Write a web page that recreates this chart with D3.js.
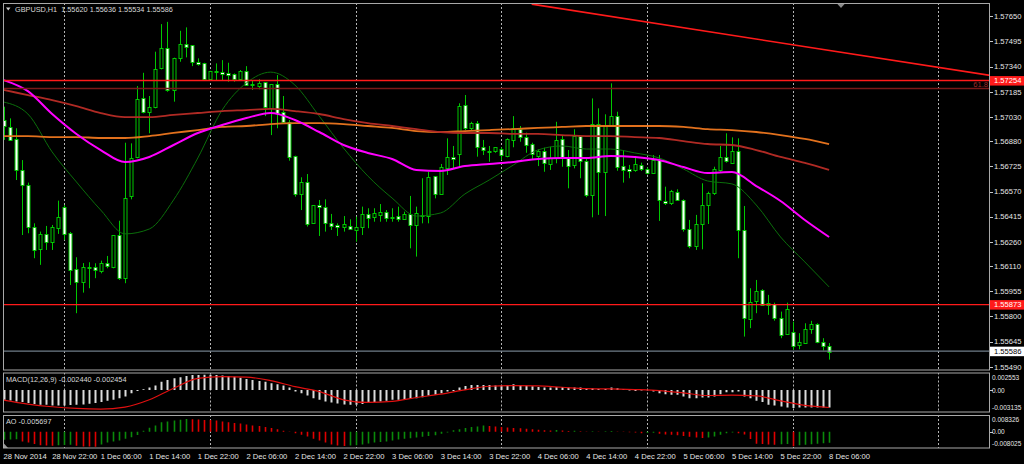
<!DOCTYPE html>
<html><head><meta charset="utf-8">
<script src="https://cdn.jsdelivr.net/npm/d3@7"></script>
<style>body{margin:0;background:#000;overflow:hidden}svg{display:block}</style>
</head><body>
<svg id="chart" width="1024" height="464"></svg>
<script>
// ---------------- DATA ----------------
const symbolTitle = "GBPUSD,H1";
const lastOHLC = ["1.55620","1.55636","1.55534","1.55586"];
const open = [1.57011,1.56970,1.56892,1.56703,1.56610,1.56354,1.56214,1.56309,1.56257,1.56350,
1.56477,1.56316,1.56091,1.56009,1.56103,1.56103,1.56082,1.56132,1.56107,1.56302,
1.56036,1.56543,1.56781,1.57144,1.57056,1.57089,1.57329,1.57452,1.57196,1.57391,
1.57479,1.57473,1.57370,1.57364,1.57267,1.57313,1.57308,1.57302,1.57292,1.57262,
1.57314,1.57231,1.57222,1.57243,1.57087,1.57233,1.57058,1.57000,1.56791,1.56559,
1.56631,1.56374,1.56487,1.56473,1.56378,1.56364,1.56354,1.56358,1.56329,1.56350,
1.56432,1.56409,1.56427,1.56444,1.56415,1.56419,1.56403,1.56432,1.56362,1.56419,
1.56419,1.56666,1.56553,1.56719,1.56785,1.56801,1.57103,1.56966,1.56994,1.56843,
1.56822,1.56816,1.56834,1.56789,1.56888,1.56954,1.56908,1.56861,1.56791,1.56820,
1.56740,1.56775,1.56892,1.56779,1.56732,1.56912,1.56760,1.56549,1.56984,1.56692,
1.56976,1.57035,1.56727,1.56709,1.56703,1.56735,1.56707,1.56682,1.56764,1.56514,
1.56501,1.56565,1.56518,1.56338,1.56235,1.56368,1.56483,1.56559,1.56703,1.56781,
1.56748,1.56822,1.56333,1.55789,1.55898,1.55964,1.55882,1.55877,1.55793,1.55693,
1.55707,1.55625,1.55635,1.55722,1.55754,1.55641,1.55620];
const high = [1.57093,1.57021,1.56960,1.56764,1.56625,1.56374,1.56323,1.56358,1.56364,1.56514,
1.56487,1.56321,1.56165,1.56129,1.56134,1.56128,1.56144,1.56173,1.56302,1.56390,
1.56871,1.56867,1.57220,1.57302,1.57159,1.57432,1.57602,1.57616,1.57395,1.57561,
1.57582,1.57473,1.57391,1.57364,1.57314,1.57360,1.57380,1.57364,1.57298,1.57319,
1.57343,1.57257,1.57262,1.57243,1.57233,1.57288,1.57159,1.57011,1.56791,1.56658,
1.56678,1.56487,1.56518,1.56522,1.56432,1.56374,1.56419,1.56399,1.56415,1.56477,
1.56467,1.56467,1.56493,1.56456,1.56467,1.56477,1.56446,1.56543,1.56477,1.56652,
1.56692,1.56666,1.56740,1.56898,1.56851,1.57114,1.57165,1.57000,1.57005,1.56888,
1.56851,1.56843,1.56843,1.56898,1.57035,1.56974,1.56933,1.56871,1.56830,1.56840,
1.56846,1.57000,1.56918,1.56826,1.56954,1.56918,1.56775,1.57144,1.57083,1.57046,
1.57237,1.57062,1.56826,1.56734,1.56789,1.56748,1.56719,1.56795,1.56795,1.56600,
1.56580,1.56584,1.56522,1.56395,1.56426,1.56621,1.56569,1.56723,1.56851,1.56929,
1.56904,1.56898,1.56481,1.55974,1.56025,1.55968,1.55933,1.55885,1.55830,1.55885,
1.55768,1.55697,1.55758,1.55773,1.55758,1.55666,1.55636];
const low = [1.56888,1.56888,1.56641,1.56302,1.56313,1.56159,1.56118,1.56210,1.56210,1.56309,
1.56272,1.55994,1.55820,1.55947,1.55974,1.56036,1.56066,1.56097,1.56097,1.56025,
1.56005,1.56522,1.56775,1.57052,1.56929,1.57083,1.57323,1.57185,1.57124,1.57370,
1.57397,1.57343,1.57346,1.57253,1.57257,1.57257,1.57257,1.57247,1.57247,1.57253,
1.57226,1.57196,1.57200,1.57035,1.56918,1.56960,1.56994,1.56760,1.56538,1.56456,
1.56354,1.56374,1.56296,1.56323,1.56333,1.56296,1.56323,1.56333,1.56261,1.56302,
1.56344,1.56384,1.56384,1.56384,1.56384,1.56384,1.56395,1.56220,1.56169,1.56374,
1.56374,1.56528,1.56549,1.56672,1.56713,1.56719,1.56949,1.56949,1.56785,1.56795,
1.56754,1.56809,1.56764,1.56781,1.56843,1.56877,1.56809,1.56764,1.56727,1.56692,
1.56703,1.56744,1.56723,1.56590,1.56713,1.56652,1.56535,1.56411,1.56426,1.56419,
1.56970,1.56698,1.56625,1.56652,1.56692,1.56697,1.56676,1.56678,1.56389,1.56487,
1.56487,1.56512,1.56323,1.56220,1.56210,1.56214,1.56370,1.56549,1.56692,1.56748,
1.56744,1.56159,1.55676,1.55728,1.55820,1.55865,1.55810,1.55774,1.55666,1.55686,
1.55594,1.55598,1.55631,1.55693,1.55635,1.55590,1.55534];
const close = [1.56976,1.56892,1.56703,1.56610,1.56354,1.56210,1.56309,1.56261,1.56350,1.56415,
1.56309,1.56091,1.56009,1.56103,1.56105,1.56087,1.56132,1.56111,1.56302,1.56036,
1.56528,1.56775,1.57138,1.57056,1.57089,1.57323,1.57452,1.57196,1.57395,1.57479,
1.57462,1.57370,1.57360,1.57267,1.57314,1.57313,1.57298,1.57290,1.57262,1.57314,
1.57226,1.57222,1.57241,1.57087,1.57233,1.57056,1.56994,1.56785,1.56559,1.56631,
1.56374,1.56487,1.56473,1.56374,1.56360,1.56354,1.56370,1.56338,1.56350,1.56432,
1.56409,1.56436,1.56444,1.56409,1.56415,1.56403,1.56432,1.56362,1.56436,1.56426,
1.56662,1.56553,1.56719,1.56785,1.56771,1.57099,1.56963,1.56994,1.56843,1.56822,
1.56822,1.56843,1.56795,1.56892,1.56960,1.56902,1.56857,1.56800,1.56820,1.56744,
1.56775,1.56888,1.56779,1.56732,1.56912,1.56760,1.56549,1.56984,1.56689,1.56980,
1.57035,1.56719,1.56703,1.56697,1.56738,1.56711,1.56682,1.56764,1.56518,1.56501,
1.56573,1.56518,1.56338,1.56235,1.56368,1.56487,1.56559,1.56707,1.56781,1.56754,
1.56820,1.56338,1.55789,1.55892,1.55959,1.55871,1.55867,1.55789,1.55686,1.55845,
1.55620,1.55641,1.55722,1.55752,1.55640,1.55614,1.55586];

// moving averages, read every 4th bar
const maIdx = [0,4,8,12,16,20,24,28,32,36,40,44,48,52,56,60,64,68,72,76,80,84,88,92,96,100,104,108,112,116,120,124,128,132,136];
const maMagenta = [1.57257,1.57189,1.57048,1.56925,1.56826,1.56752,1.56783,1.56857,1.56931,1.56980,1.57023,1.57054,1.57011,1.56937,1.56857,1.56808,1.56771,1.56703,1.56697,1.56727,1.56740,1.56752,1.56771,1.56777,1.56777,1.56789,1.56783,1.56764,1.56721,1.56684,1.56690,1.56604,1.56512,1.56395,1.56290];
const maBrown = [1.57196,1.57165,1.57134,1.57097,1.57054,1.57029,1.57029,1.57042,1.57054,1.57066,1.57072,1.57079,1.57066,1.57048,1.57017,1.56992,1.56974,1.56955,1.56937,1.56931,1.56931,1.56925,1.56925,1.56918,1.56912,1.56912,1.56906,1.56900,1.56881,1.56863,1.56857,1.56826,1.56783,1.56746,1.56703];
const maOrange = [1.56912,1.56912,1.56906,1.56906,1.56900,1.56900,1.56912,1.56931,1.56949,1.56968,1.56974,1.56986,1.56992,1.56992,1.56986,1.56974,1.56962,1.56943,1.56937,1.56943,1.56949,1.56955,1.56962,1.56968,1.56974,1.56974,1.56974,1.56974,1.56968,1.56955,1.56949,1.56937,1.56918,1.56894,1.56863];
const maGreen = [1.57122,1.57048,1.56814,1.56629,1.56456,1.56309,1.56339,1.56518,1.56777,1.57072,1.57239,1.57306,1.57226,1.57035,1.56838,1.56666,1.56530,1.56419,1.56438,1.56555,1.56641,1.56734,1.56826,1.56851,1.56832,1.56832,1.56808,1.56777,1.56709,1.56635,1.56617,1.56487,1.56290,1.56136,1.55982];

// MACD (12,26,9)
const macdMain = [-0.00138,-0.00147,-0.00161,-0.00170,-0.00184,-0.00198,-0.00207,-0.00207,-0.00216,-0.00216,
-0.00216,-0.00212,-0.00207,-0.00202,-0.00193,-0.00184,-0.00170,-0.00152,-0.00138,-0.00115,
-0.00092,-0.00046,-0.00014,0.00009,0.00032,0.00060,0.00115,0.00138,0.00161,0.00175,
0.00193,0.00207,0.00207,0.00212,0.00212,0.00207,0.00202,0.00193,0.00184,0.00170,
0.00152,0.00138,0.00124,0.00115,0.00092,0.00078,0.00060,0.00032,-0.00023,-0.00046,
-0.00078,-0.00115,-0.00138,-0.00161,-0.00175,-0.00189,-0.00202,-0.00207,-0.00207,-0.00198,
-0.00184,-0.00170,-0.00161,-0.00152,-0.00138,-0.00138,-0.00129,-0.00124,-0.00115,-0.00101,
-0.00078,-0.00069,-0.00046,-0.00023,-0.00014,0.00032,0.00055,0.00069,0.00069,0.00069,
0.00069,0.00060,0.00060,0.00069,0.00078,0.00069,0.00060,0.00051,0.00041,0.00032,
0.00032,0.00041,0.00041,0.00032,0.00032,0.00032,0.00014,0.00023,0.00014,0.00014,
0.00032,0.00023,0.00014,-0.00009,-0.00014,-0.00009,-0.00005,-0.00023,-0.00046,-0.00060,
-0.00069,-0.00069,-0.00092,-0.00115,-0.00115,-0.00106,-0.00106,-0.00092,-0.00060,-0.00032,
-0.00032,-0.00023,-0.00092,-0.00115,-0.00152,-0.00170,-0.00207,-0.00216,-0.00230,-0.00244,
-0.00253,-0.00244,-0.00244,-0.00244,-0.00244,-0.00244,-0.00244];
const macdSignal = [-0.00143,-0.00198,-0.00235,-0.00258,-0.00267,-0.00239,-0.00138,0.00023,0.00161,0.00184,0.00179,0.00129,0.00046,-0.00023,-0.00138,-0.00175,-0.00161,-0.00106,-0.00060,0.00000,0.00051,0.00060,0.00055,0.00037,0.00018,0.00014,0.00005,-0.00009,-0.00041,-0.00078,-0.00074,-0.00083,-0.00152,-0.00216,-0.002454];
const macdTicks = ["0.002553","0.00","-0.003135"];
const macdRange = [-0.003135, 0.002553];

// Awesome Oscillator
const ao = [-0.0042,-0.0040,-0.0039,-0.0050,-0.0056,-0.0064,-0.0070,-0.0072,-0.0073,-0.0070,
-0.0069,-0.0068,-0.0073,-0.0076,-0.0077,-0.0078,-0.0066,-0.0056,-0.0050,-0.0045,
-0.0036,-0.0028,-0.0017,0.0005,0.0021,0.0033,0.0050,0.0054,0.0059,0.0063,
0.0066,0.0065,0.0064,0.0062,0.0061,0.0059,0.0054,0.0050,0.0046,0.0043,
0.0038,0.0033,0.0030,0.0025,0.0020,0.0013,0.0005,-0.0001,-0.0008,-0.0016,
-0.0025,-0.0036,-0.0045,-0.0056,-0.0066,-0.0072,-0.0074,-0.0072,-0.0070,-0.0066,
-0.0061,-0.0056,-0.0053,-0.0050,-0.0045,-0.0040,-0.0036,-0.0033,-0.0030,-0.0026,
-0.0022,-0.0018,-0.0010,-0.0004,0.0008,0.0013,0.0020,0.0025,0.0028,0.0033,
0.0030,0.0028,0.0025,0.0022,0.0020,0.0019,0.0016,0.0013,0.0011,0.0008,
0.0007,0.0009,0.0007,0.0004,0.0005,0.0003,0.0002,0.0003,0.0002,0.0003,
0.0004,0.0002,0.0001,-0.0002,-0.0004,-0.0008,-0.0006,-0.0005,-0.0010,-0.0014,
-0.0016,-0.0018,-0.0022,-0.0026,-0.0030,-0.0032,-0.0030,-0.0024,-0.0016,-0.0008,
-0.0004,-0.0008,-0.0014,-0.0038,-0.0062,-0.0064,-0.0066,-0.0067,-0.0065,-0.0063,
-0.0075,-0.0070,-0.0068,-0.0065,-0.0062,-0.0060,-0.005697];
const aoTicks = ["0.008326","0.00","-0.008025"];
const aoRange = [-0.008025, 0.008326];

// price scale
const priceTicks = [1.57650,1.57495,1.57340,1.57185,1.57030,1.56880,1.56725,1.56570,1.56415,1.56260,1.56110,1.55955,1.55800,1.55645,1.55490];
const priceRange = [1.55470, 1.57726];
// objects
const resistance = 1.57254, support = 1.55873, bidPrice = 1.55586, fibLevel = 1.57205;
const trendIdx = [87, 163], trendPrice = [1.57725, 1.57283];
// time axis
const timeTickIdx = [0,8,16,24,32,40,48,56,64,72,80,88,96,104,112,120,128,136];
const timeTickLabels = ["28 Nov 2014","28 Nov 22:00","1 Dec 06:00","1 Dec 14:00","1 Dec 22:00","2 Dec 06:00","2 Dec 14:00","2 Dec 22:00","3 Dec 06:00","3 Dec 14:00","3 Dec 22:00","4 Dec 06:00","4 Dec 14:00","4 Dec 22:00","5 Dec 06:00","5 Dec 14:00","5 Dec 22:00","8 Dec 06:00"];
const dayStartIdx = [10,34,58,82,106,130,154];

// ---------------- DRAW ----------------
const svg = d3.select("#chart");
const FONT = "Liberation Sans, Arial, sans-serif";
const FS = 7.6;
const PL = 3, PR = 990;
const P = {main:[3,370.5], macd:[372.5,412.5], ao:[415,448.5]};

const x = d3.scaleLinear().domain([0,136]).range([3.6,829.1]);
const y = d3.scaleLinear().domain(priceRange).range([370,4]);
const yM = d3.scaleLinear().domain(macdRange).range([412.4,371.6]);
const yA = d3.scaleLinear().domain(aoRange).range([447.2,415.8]);
const px = i => Math.round(x(i)) + 0.5;

svg.append("rect").attr("width",1024).attr("height",464).attr("fill","#000");

const defs = svg.append("defs");
Object.entries(P).forEach(([k,[t,b]])=>{
  defs.append("clipPath").attr("id","clip-"+k).append("rect")
    .attr("x",PL+0.5).attr("y",t+0.5).attr("width",PR-PL-1).attr("height",b-t-1);
});

// grid (dotted day separators)
const grid = svg.append("g");
Object.entries(P).forEach(([k,[t,b]])=>{
  grid.append("g").attr("clip-path","url(#clip-"+k+")").selectAll("line").data(dayStartIdx).join("line")
    .attr("x1",d=>px(d)).attr("x2",d=>px(d)).attr("y1",t).attr("y2",b)
    .attr("stroke","#b4b4b4").attr("stroke-width",1).attr("stroke-dasharray","2,2");
});

// ----- main panel
const gm = svg.append("g").attr("clip-path","url(#clip-main)");
const bars = d3.range(open.length).map(i=>({i,o:open[i],h:high[i],l:low[i],c:close[i]}));
const WICK = "#00c800";
gm.selectAll("line.wick").data(bars).join("line").attr("class","wick")
  .attr("x1",d=>px(d.i)).attr("x2",d=>px(d.i))
  .attr("y1",d=>y(d.h)).attr("y2",d=>y(d.l))
  .attr("stroke",WICK).attr("stroke-width",1);
gm.selectAll("rect.body").data(bars).join("rect").attr("class","body")
  .attr("x",d=>px(d.i)-1.5).attr("width",3)
  .attr("y",d=>Math.round(Math.min(y(d.o),y(d.c)))+0.5)
  .attr("height",d=>Math.max(1,Math.round(Math.abs(y(d.o)-y(d.c)))))
  .attr("fill",d=>d.c>=d.o?"#000":"#ffffff")
  .attr("stroke",WICK).attr("stroke-width",1);

const maLine = d3.line().x((d,k)=>x(maIdx[k])).y(d=>y(d)).curve(d3.curveMonotoneX);
gm.append("path").datum(maGreen).attr("d",maLine).attr("fill","none").attr("stroke","#0b6e0b").attr("stroke-width",1);
gm.append("path").datum(maOrange).attr("d",maLine).attr("fill","none").attr("stroke","#e2711d").attr("stroke-width",1.8);
gm.append("path").datum(maBrown).attr("d",maLine).attr("fill","none").attr("stroke","#b02a24").attr("stroke-width",1.8);
gm.append("path").datum(maMagenta).attr("d",maLine).attr("fill","none").attr("stroke","#ff00ff").attr("stroke-width",2);

// horizontal objects
const hl = (p,col,w)=>gm.append("line").attr("x1",PL).attr("x2",PR).attr("y1",y(p)).attr("y2",y(p)).attr("stroke",col).attr("stroke-width",w);
hl(fibLevel,"#7a1818",1.6);
hl(resistance,"#ff1a1a",1.6);
hl(support,"#ff1a1a",1.4);
hl(bidPrice,"#6f7c88",1.2);
gm.append("line").attr("x1",x(trendIdx[0])).attr("y1",y(trendPrice[0])).attr("x2",x(trendIdx[1])).attr("y2",y(trendPrice[1]))
  .attr("stroke","#ff1a1a").attr("stroke-width",1.6);
gm.append("text").attr("x",PR-2).attr("y",y(fibLevel)-1.5).attr("text-anchor","end")
  .attr("font-family",FONT).attr("font-size",FS).attr("fill","#a02828").text("61.8");

// header
svg.append("path").attr("d","M6,7.5 L10.5,7.5 L8.25,10.5 Z").attr("fill","#d0d0d0");
svg.append("text").attr("x",15).attr("y",12.3).attr("font-family",FONT).attr("font-size",7.3).attr("fill","#d8d8d8")
  .attr("xml:space","preserve").text(symbolTitle+"  "+lastOHLC.join(" "));
// chart shift marker
svg.append("path").attr("d","M837,3.5 L845,3.5 L841,8 Z").attr("fill","#8a8a8a");

// ----- MACD panel
const gM = svg.append("g").attr("clip-path","url(#clip-macd)");
gM.selectAll("line.h").data(macdMain).join("line")
  .attr("x1",(d,i)=>px(i)).attr("x2",(d,i)=>px(i))
  .attr("y1",yM(0)).attr("y2",d=>yM(d))
  .attr("stroke","#dcdcdc").attr("stroke-width",2);
gM.append("path").datum(macdSignal).attr("d",d3.line().x((d,k)=>x(maIdx[k])).y(d=>yM(d)).curve(d3.curveMonotoneX))
  .attr("fill","none").attr("stroke","#e01010").attr("stroke-width",1.2);
svg.append("text").attr("x",6).attr("y",382).attr("font-family",FONT).attr("font-size",7.3).attr("fill","#d8d8d8")
  .text("MACD(12,26,9) -0.002440 -0.002454");

// ----- AO panel
const gA = svg.append("g").attr("clip-path","url(#clip-ao)");
gA.selectAll("line.ao").data(ao).join("line")
  .attr("x1",(d,i)=>px(i)).attr("x2",(d,i)=>px(i))
  .attr("y1",yA(0)).attr("y2",d=>yA(d))
  .attr("stroke",(d,i)=> i===0 ? "#0a8a0a" : (d>ao[i-1] ? "#0a8a0a" : "#e00000"))
  .attr("stroke-width",1.6);
svg.append("text").attr("x",6).attr("y",424).attr("font-family",FONT).attr("font-size",7.3).attr("fill","#d8d8d8")
  .text("AO -0.005697");
svg.append("path").attr("d","M3.5,443 L3.5,448 L8,448 Z").attr("fill","#9a9a9a");

// ----- frames
Object.values(P).forEach(([t,b])=>{
  svg.append("rect").attr("x",PL+0.5).attr("y",t+0.5).attr("width",PR-PL-1).attr("height",b-t-1)
    .attr("fill","none").attr("stroke","#a8a8a8").attr("stroke-width",1);
});

// ----- price axis
const ax = svg.append("g");
ax.selectAll("line.pt").data(priceTicks).join("line")
  .attr("x1",PR).attr("x2",PR+3).attr("y1",d=>Math.round(y(d))+0.5).attr("y2",d=>Math.round(y(d))+0.5)
  .attr("stroke","#c8c8c8");
ax.selectAll("text.pt").data(priceTicks).join("text")
  .attr("x",PR+4).attr("y",d=>y(d)+2.8)
  .attr("font-family",FONT).attr("font-size",FS).attr("fill","#e6e6e6")
  .text(d=>d.toFixed(5));
const priceBox = (p,bg,fg)=>{
  ax.append("rect").attr("x",PR).attr("y",y(p)-4.5).attr("width",1024-PR).attr("height",9.5).attr("fill",bg);
  ax.append("text").attr("x",PR+4).attr("y",y(p)+2.8).attr("font-family",FONT).attr("font-size",FS).attr("fill",fg).text(p.toFixed(5));
};
priceBox(resistance,"#ff1a1a","#ffffff");
priceBox(support,"#ff1a1a","#ffffff");
priceBox(bidPrice,"#ffffff","#000000");

// sub-panel scales (small so the long negative labels fit inside the window)
const subTick = (labels,scale,t,b)=>{
  const ys=[t+4.5, scale(0), b-5.5];
  labels.forEach((lab,k)=>{
    if(k===1) ax.append("line").attr("x1",PR).attr("x2",PR+3).attr("y1",Math.round(ys[k])+0.5).attr("y2",Math.round(ys[k])+0.5).attr("stroke","#c8c8c8");
    ax.append("text").attr("x",PR+2).attr("y",ys[k]+2.6).attr("font-family",FONT).attr("font-size",6.5).attr("fill","#e6e6e6").text(lab);
  });
};
subTick(macdTicks,yM,P.macd[0],P.macd[1]);
subTick(aoTicks,yA,P.ao[0],P.ao[1]);

// ----- time axis
svg.append("g").selectAll("text").data(timeTickIdx).join("text")
  .attr("x",d=>x(d)).attr("y",459)
  .attr("font-family",FONT).attr("font-size",FS).attr("fill","#e6e6e6")
  .text((d,k)=>timeTickLabels[k]);
</script>
</body></html>
